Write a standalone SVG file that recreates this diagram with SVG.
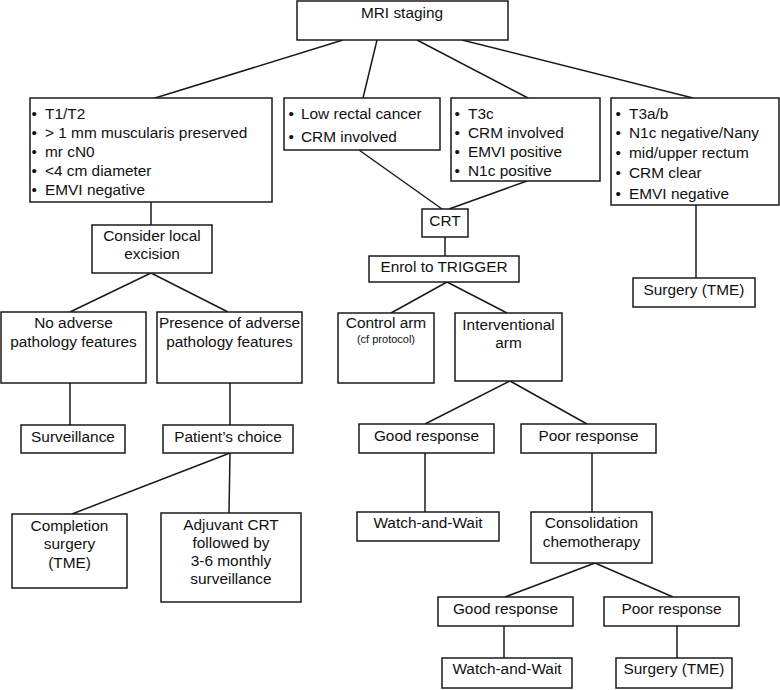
<svg xmlns="http://www.w3.org/2000/svg" width="780" height="690" viewBox="0 0 780 690">
<style>
rect{fill:#fff;stroke:#1a1a1a;stroke-width:1.5}
#connectors line{stroke:#1a1a1a;stroke-width:1.5}
text{font-family:"Liberation Sans",Arial,sans-serif;font-size:15.4px;fill:#111}
.c{text-anchor:middle}
.s{font-size:11px}
</style>
<rect x="0" y="0" width="780" height="690" style="stroke:none"/>
<g id="connectors">
<line x1="343" y1="40" x2="155" y2="98"/>
<line x1="377" y1="40" x2="363" y2="98"/>
<line x1="417" y1="40" x2="528" y2="98"/>
<line x1="462" y1="40" x2="693" y2="98"/>
<line x1="359" y1="150" x2="442" y2="209"/>
<line x1="527" y1="181" x2="449" y2="209"/>
<line x1="445" y1="237" x2="445" y2="256"/>
<line x1="447" y1="282" x2="391" y2="313"/>
<line x1="447" y1="282" x2="507" y2="313"/>
<line x1="510" y1="381" x2="425" y2="424"/>
<line x1="510" y1="381" x2="587" y2="424"/>
<line x1="425" y1="453" x2="425" y2="512"/>
<line x1="592" y1="453" x2="592" y2="512"/>
<line x1="595" y1="563" x2="505" y2="597"/>
<line x1="595" y1="563" x2="673" y2="597"/>
<line x1="504" y1="626" x2="504" y2="658"/>
<line x1="677" y1="626" x2="677" y2="658"/>
<line x1="151" y1="202" x2="151" y2="225"/>
<line x1="151" y1="273" x2="70" y2="312"/>
<line x1="151" y1="273" x2="228" y2="312"/>
<line x1="70" y1="383" x2="70" y2="425"/>
<line x1="230" y1="383" x2="230" y2="425"/>
<line x1="230" y1="453" x2="72" y2="514"/>
<line x1="230" y1="453" x2="229" y2="513"/>
<line x1="696" y1="205" x2="696" y2="278"/>
</g>
<g id="mri"><rect x="297" y="1" width="211" height="39"/><text class="c" x="402" y="18">MRI staging</text></g>
<g id="t1t2"><rect x="30" y="98" width="242" height="104"/>
<text x="31.5" y="119">•</text><text x="45" y="119">T1/T2</text>
<text x="31.5" y="138">•</text><text x="45" y="138">&gt; 1 mm muscularis preserved</text>
<text x="31.5" y="157">•</text><text x="45" y="157">mr cN0</text>
<text x="31.5" y="176">•</text><text x="45" y="176">&lt;4 cm diameter</text>
<text x="31.5" y="195">•</text><text x="45" y="195">EMVI negative</text></g>
<g id="low"><rect x="284" y="98" width="156" height="52"/>
<text x="288.5" y="119">•</text><text x="301" y="119">Low rectal cancer</text>
<text x="288.5" y="142">•</text><text x="301" y="142">CRM involved</text></g>
<g id="t3c"><rect x="451" y="98" width="149" height="83"/>
<text x="454.5" y="119">•</text><text x="468" y="119">T3c</text>
<text x="454.5" y="138">•</text><text x="468" y="138">CRM involved</text>
<text x="454.5" y="157">•</text><text x="468" y="157">EMVI positive</text>
<text x="454.5" y="176">•</text><text x="468" y="176">N1c positive</text></g>
<g id="t3ab"><rect x="611" y="98" width="168" height="107"/>
<text x="615.5" y="119">•</text><text x="629" y="119">T3a/b</text>
<text x="615.5" y="138">•</text><text x="629" y="138">N1c negative/Nany</text>
<text x="615.5" y="158">•</text><text x="629" y="158">mid/upper rectum</text>
<text x="615.5" y="178">•</text><text x="629" y="178">CRM clear</text>
<text x="615.5" y="199">•</text><text x="629" y="199">EMVI negative</text></g>
<g id="surgery1"><rect x="633" y="278" width="122" height="29"/><text class="c" x="694" y="294.5">Surgery (TME)</text></g>
<g id="consider"><rect x="92" y="225" width="120" height="48"/><text class="c" x="152" y="240.5">Consider local</text><text class="c" x="152" y="258.5">excision</text></g>
<g id="noadverse"><rect x="1" y="312" width="145" height="71"/><text class="c" x="73.5" y="327.5">No adverse</text><text class="c" x="73.5" y="346.5">pathology features</text></g>
<g id="presence"><rect x="157" y="312" width="145" height="71"/><text class="c" x="229.5" y="327.5">Presence of adverse</text><text class="c" x="229.5" y="346.5">pathology features</text></g>
<g id="surveillance"><rect x="21" y="425" width="104" height="28"/><text class="c" x="73" y="441.5">Surveillance</text></g>
<g id="choice"><rect x="163" y="425" width="130" height="28"/><text class="c" x="228" y="441.5">Patient’s choice</text></g>
<g id="completion"><rect x="12" y="514" width="115" height="74"/><text class="c" x="69.5" y="530.5">Completion</text><text class="c" x="69.5" y="548.5">surgery</text><text class="c" x="69.5" y="567.5">(TME)</text></g>
<g id="adjuvant"><rect x="161" y="513" width="140" height="89"/><text class="c" x="231" y="530">Adjuvant CRT</text><text class="c" x="231" y="548">followed by</text><text class="c" x="231" y="566">3-6 monthly</text><text class="c" x="231" y="584">surveillance</text></g>
<g id="crt"><rect x="422" y="209" width="46" height="28"/><text class="c" x="445" y="225.5">CRT</text></g>
<g id="enrol"><rect x="369" y="256" width="150" height="26"/><text class="c" x="444" y="271.5">Enrol to TRIGGER</text></g>
<g id="control"><rect x="338" y="313" width="96" height="70"/><text class="c" x="386" y="327.5">Control arm</text><text class="c s" x="386" y="343">(cf protocol)</text></g>
<g id="interv"><rect x="455" y="313" width="107" height="68"/><text class="c" x="508.5" y="329.5">Interventional</text><text class="c" x="508.5" y="347.5">arm</text></g>
<g id="good1"><rect x="359" y="424" width="135" height="29"/><text class="c" x="426.5" y="440.5">Good response</text></g>
<g id="poor1"><rect x="521" y="424" width="135" height="29"/><text class="c" x="588.5" y="440.5">Poor response</text></g>
<g id="waw1"><rect x="357" y="512" width="142" height="29"/><text class="c" x="428" y="527.5">Watch-and-Wait</text></g>
<g id="consol"><rect x="531" y="512" width="121" height="51"/><text class="c" x="591.5" y="527.5">Consolidation</text><text class="c" x="591.5" y="546.5">chemotherapy</text></g>
<g id="good2"><rect x="438" y="597" width="135" height="29"/><text class="c" x="505.5" y="613.5">Good response</text></g>
<g id="poor2"><rect x="604" y="597" width="135" height="29"/><text class="c" x="671.5" y="613.5">Poor response</text></g>
<g id="waw2"><rect x="442" y="658" width="130" height="30"/><text class="c" x="507" y="673.5">Watch-and-Wait</text></g>
<g id="surgery2"><rect x="616" y="658" width="116" height="30"/><text class="c" x="674" y="673.5">Surgery (TME)</text></g>
</svg>
